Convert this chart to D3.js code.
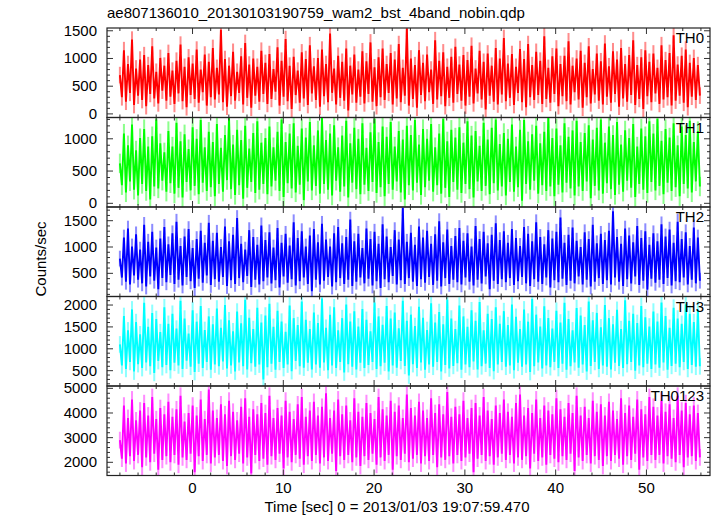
<!DOCTYPE html>
<html><head><meta charset="utf-8">
<script src="https://cdn.jsdelivr.net/npm/d3@7"></script>
<style>
body{margin:0;background:#fff;}
text{font-family:"Liberation Sans",Arial,Helvetica,sans-serif;fill:#000;}
</style></head><body>
<script>
const titleText = "ae807136010_20130103190759_wam2_bst_4band_nobin.qdp";
const xLabel = "Time [sec] 0 = 2013/01/03 19:07:59.470";
const yLabel = "Counts/sec";
const bandNames = ["TH0","TH1","TH2","TH3","TH0123"];
const bandColors = ["#ff0000","#00ff00","#0000ff","#00ffff","#ff00ff"];
const xTicks = [0,10,20,30,40,50];
const tStart = -8.0, tStep = 0.2226;
const yErr = [150, 150, 150, 190, 340];
const yDomains = [[-65,1550],[-57,1330],[60,1760],[150,2195],[1465,5095]];
const yMajor = [[0,500,1000,1500],[0,500,1000],[500,1000,1500],[500,1000,1500,2000],[2000,3000,4000,5000]];
const yMinorStep = [100,100,100,100,200];

const th0 = [700,300,1150,220,900,380,1340,160,820,330,980,250,1060,140,880,360,1220,280,760,190,1010,420,870,240,
1100,310,780,180,960,370,1250,230,850,120,1020,340,910,270,1160,200,800,390,1070,150,940,300,1190,260,
830,350,1520,210,990,130,870,320,1120,240,760,380,1040,170,1280,290,890,110,1000,330,850,220,1140,360,
920,180,1080,270,810,400,1200,150,960,310,1350,230,870,90,1030,340,780,200,1110,280,990,160,1240,370,
860,250,1010,130,1160,320,900,210,1450,380,820,170,1050,290,940,240,1180,60,870,350,1070,200,800,310,
1130,190,950,360,1290,220,840,140,1020,300,1180,250,900,380,1100,170,980,280,1260,210,830,330,1540,150,
1000,270,880,110,1150,340,920,230,1070,390,800,180,1330,260,960,320,1110,140,850,290,1030,200,1210,360,
890,240,1060,150,970,310,1230,190,820,370,1140,260,940,80,1090,330,870,220,1190,170,1000,350,1370,230,
910,290,1080,160,850,380,1170,210,990,120,1260,300,880,250,1120,340,960,180,1400,270,830,200,1040,360,
1180,140,900,320,1050,230,1310,170,870,390,1000,260,1140,110,920,300,1220,190,810,350,1090,240,950,170,
1270,310,860,200,1130,360,980,130,1190,280,900,220,1060,340,1330,160,880,270,1020,90,1150,320,940,210,
1090,370,830,180,1240,260,970,300,1100,150,1420,240,890,330,1050,200,1160,120,920,310,1010,250,880,330];
const th1 = [620,280,1080,170,900,340,1220,210,820,120,1010,300,1150,190,880,60,1040,260,1300,230,930,350,790,180,
1120,310,880,150,1250,240,960,90,1070,330,840,200,1180,270,1000,140,1290,320,870,190,1110,250,950,110,
1230,300,860,180,1060,360,1320,220,910,130,1140,280,980,70,1200,240,850,330,1090,160,1270,210,940,300,
1010,140,1190,260,870,350,1110,190,1300,100,950,310,1080,230,1240,170,890,290,1160,50,1020,340,1260,200,
900,270,1130,150,1320,300,980,210,1080,120,1210,350,870,180,1050,260,1280,90,930,320,1170,220,1000,140,
1240,290,860,190,1100,330,1310,160,950,250,1190,110,1030,300,1260,210,880,340,1120,170,990,60,1200,280,
1060,200,1290,320,910,130,1150,250,1000,350,1230,180,870,280,1080,150,1310,240,960,100,1140,330,1020,210,
1180,160,940,300,1270,220,1050,90,1120,340,890,190,1250,270,990,140,1170,310,1300,200,920,260,1090,120,
1000,330,1220,180,880,250,1140,40,1290,300,960,210,1070,350,1200,150,930,280,1110,190,1320,260,1010,110,
1160,290,900,170,1240,320,1030,230,1130,120,1280,260,950,190,1090,340,1210,80,990,270,1170,200,1300,150,
940,310,1190,220,1060,130,1260,290,910,180,1130,350,1010,240,1230,100,880,300,1160,210,1040,160,1270,330,
1080,200,1310,270,970,140,1150,320,1020,190,1240,250,900,110,1190,300,1060,230,1280,170,950,340,1120,260];
const th2 = [780,420,1180,340,1350,290,1010,460,1240,380,950,310,1420,250,1100,440,1290,360,990,200,1160,410,1380,330,
1050,470,1260,300,1480,380,1020,270,1200,430,1340,350,980,220,1150,400,1310,320,1080,460,1460,280,1120,390,
1270,340,1000,430,1390,260,1110,370,1230,300,1550,410,1060,330,950,450,1320,240,1190,380,1040,290,1410,350,
1130,420,1280,310,990,370,1360,230,1080,440,1250,320,1030,390,1470,270,1170,350,1300,420,1010,300,1220,160,
1340,380,1090,290,1440,360,1140,430,1010,250,1260,330,1380,410,1070,300,1190,380,1520,260,1110,340,1250,420,
980,310,1350,400,1150,270,1290,350,1060,220,1430,390,1200,330,1000,450,1320,290,1140,370,1740,300,1100,410,
1270,340,1040,260,1390,390,1180,320,1310,430,1060,280,1240,360,1490,250,1090,410,1330,300,1020,380,1210,330,
1360,290,1120,420,1260,340,1010,270,1400,380,1150,310,1290,440,1070,200,1230,360,1450,300,1130,390,1300,330,
1080,410,1340,280,1170,350,1020,430,1380,310,1250,260,1110,390,1470,340,1190,300,1050,420,1320,230,1160,370,
1290,330,1560,400,1080,280,1230,360,1370,310,1120,440,1000,290,1280,380,1150,250,1420,340,1070,410,1250,300,
1130,370,1310,290,1680,420,1190,340,1060,260,1350,390,1220,310,1090,440,1400,280,1170,360,1300,190,1040,400,
1260,320,1110,380,1430,300,1200,410,1330,270,1080,350,1480,330,1150,420,1280,290,1020,380,1370,310,1180,360];
const th3 = [1100,620,1750,540,1420,700,1900,480,1610,650,1330,560,2050,690,1500,600,1820,450,1680,720,1380,580,1950,630,
1570,510,1800,680,1460,620,2100,540,1690,730,1350,590,1880,470,1620,660,1980,560,1430,700,1740,520,1560,640,
1920,600,1480,710,2000,550,1650,620,1400,480,1850,690,1580,600,2120,530,1710,670,1450,590,1940,640,1600,300,
1760,580,2030,660,1500,520,1870,700,1620,560,1390,640,1990,490,1700,720,1540,600,2080,570,1660,680,1450,530,
1830,640,1590,570,2150,690,1480,510,1780,620,1950,560,1420,700,1700,460,2010,650,1620,590,1860,530,1510,680,
1910,560,1660,630,1400,700,2060,540,1740,600,1550,680,1980,480,1690,620,1830,570,1470,720,2100,610,1640,390,
1780,650,1520,560,1960,690,1710,520,1430,640,2040,590,1600,700,1840,480,1560,630,2120,550,1690,610,1450,670,
1990,520,1740,640,1500,580,1880,710,1640,530,2070,600,1420,660,1800,560,1680,490,1950,640,1570,700,1860,590,
1540,620,2010,510,1730,680,1450,590,1900,640,1620,470,2140,600,1780,690,1510,550,1970,620,1700,580,1460,700,
1870,560,1600,660,2050,520,1680,600,1420,690,1930,570,1760,640,1540,480,2080,610,1650,700,1820,540,1490,620,
2000,590,1700,530,1560,680,1890,610,1450,560,2110,650,1640,700,1800,500,1590,620,1980,580,1720,660,1510,540,
1850,640,1620,570,2060,690,1750,520,1480,610,1940,660,1690,580,1570,700,2020,540,1800,630,1610,590,1900,600];
const th0123 = [2900,2150,4300,1950,3800,2250,4550,2050,3700,2300,4100,1800,4400,2200,3900,2000,4650,2350,3750,1700,4200,2100,3950,2250,
4450,2000,3850,2300,4150,1900,4700,2200,3650,2100,4000,2350,4300,1600,3900,2250,4550,2050,3750,2300,4950,1950,4100,2200,
3800,2300,4350,2050,3950,1850,4500,2250,4050,2100,3700,2350,4250,1950,4600,2200,3850,1550,4150,2300,3950,2050,4400,2150,
4000,1900,4700,2250,3800,2100,4200,2350,3900,1750,4500,2200,4050,2000,3750,2300,4350,2150,4650,1900,3850,2250,4100,2050,
4450,2300,3900,1950,4250,2200,4800,2050,3800,2350,4100,1650,4550,2250,3950,2100,4300,2300,3700,2000,4600,2200,4050,1850,
3850,2250,4400,2100,4000,2350,3750,1900,4650,2200,4150,2050,3900,2300,4500,1700,4050,2250,4300,2100,3800,2350,4750,2000,
4200,2150,3900,2300,4450,1950,4100,2250,3800,2050,4600,2300,4000,1800,4350,2200,3950,2100,4850,2250,3850,1950,4250,2300,
3950,2050,4500,2200,3800,2350,4200,1600,4400,2150,3900,2300,4650,2050,4100,2250,3750,1900,4300,2200,4000,2350,4550,2100,
4050,2300,3850,1950,4400,2200,4750,2100,3900,2250,4200,1750,4000,2350,4550,2050,3800,2200,4300,1900,4100,2300,3950,2150,
4600,2000,4150,2250,3850,2100,4400,2350,4000,1650,4700,2200,3900,2050,4250,2300,3800,1950,4500,2250,4050,2100,4350,1850,
3900,2250,4450,2050,4100,2300,3750,2150,4600,1900,4000,2250,4300,2100,3850,2350,4550,1700,4150,2200,3950,2050,4650,2300,
4250,2100,3900,2300,4500,1950,4050,2250,4350,2150,3800,2000,4700,2300,4100,1800,4400,2200,3950,2250,4300,2050,4000,2200];
const seriesValues = [th0, th1, th2, th3, th0123];

const W = 717, H = 516;
const pL = 107, pR = 710, pT = 28, pB = 475.5;
const panelH = (pB - pT) / 5;

const svg = d3.select("body").append("svg").attr("width", W).attr("height", H);
const x = d3.scaleLinear().domain([-9.42, 57.0]).range([pL, pR]);
const xMinor = d3.range(-8, 57, 2);

svg.append("text").attr("x", pL).attr("y", 18).attr("font-size", 15).text(titleText);

seriesValues.forEach((vals, i) => {
  const y0 = pT + i * panelH, y1 = y0 + panelH;
  const y = d3.scaleLinear().domain(yDomains[i]).range([y1, y0]);
  const clipId = "clip" + i;
  svg.append("clipPath").attr("id", clipId).append("rect")
    .attr("x", pL).attr("y", y0).attr("width", pR - pL).attr("height", panelH);
  const g = svg.append("g").attr("clip-path", `url(#${clipId})`);
  const pts = vals.map((v, k) => [tStart + k * tStep, v]);
  const bw = x(tStep) - x(0);
  g.selectAll("rect.eb").data(pts).join("rect").attr("class", "eb")
    .attr("x", d => x(d[0]) - bw / 2).attr("width", bw)
    .attr("y", d => y(d[1] + yErr[i])).attr("height", d => y(d[1] - yErr[i]) - y(d[1] + yErr[i]))
    .attr("fill", bandColors[i]).attr("fill-opacity", 0.45);
  const line = d3.line().x(d => x(d[0])).y(d => y(d[1]));
  g.append("path").datum(pts)
    .attr("fill", "none").attr("stroke", bandColors[i]).attr("stroke-width", 1.9)
    .attr("d", line);

  const tk = svg.append("g").attr("stroke", "#333").attr("stroke-width", 1);
  xMinor.forEach(t => {
    const L = (t % 10 === 0) ? 6 : 3;
    tk.append("line").attr("x1", x(t)).attr("x2", x(t)).attr("y1", y1).attr("y2", y1 - L);
    tk.append("line").attr("x1", x(t)).attr("x2", x(t)).attr("y1", y0).attr("y2", y0 + L);
  });
  const [d0, d1] = yDomains[i];
  const st = yMinorStep[i];
  for (let v = Math.ceil(d0 / st) * st; v <= d1; v += st) {
    const isMaj = yMajor[i].includes(v);
    const L = isMaj ? 6 : 3;
    tk.append("line").attr("x1", pL).attr("x2", pL + L).attr("y1", y(v)).attr("y2", y(v));
    tk.append("line").attr("x1", pR).attr("x2", pR - L).attr("y1", y(v)).attr("y2", y(v));
  }
  yMajor[i].forEach(v => {
    svg.append("text").attr("x", 97).attr("y", y(v) + 5).attr("text-anchor", "end")
      .attr("font-size", 15).text(v);
  });
  svg.append("text").attr("x", 704).attr("y", y0 + 15).attr("text-anchor", "end")
    .attr("font-size", 15).text(bandNames[i]);
  svg.append("rect").attr("x", pL).attr("y", y0).attr("width", pR - pL).attr("height", panelH)
    .attr("fill", "none").attr("stroke", "#222").attr("stroke-width", 1.2);
});

xTicks.forEach(t => {
  svg.append("text").attr("x", x(t)).attr("y", 493).attr("text-anchor", "middle")
    .attr("font-size", 15).text(t);
});
svg.append("text").attr("x", 397).attr("y", 512).attr("text-anchor", "middle")
  .attr("font-size", 15).text(xLabel);
svg.append("text").attr("transform", "translate(46,259) rotate(-90)").attr("text-anchor", "middle")
  .attr("font-size", 15).text(yLabel);
</script></body></html>
